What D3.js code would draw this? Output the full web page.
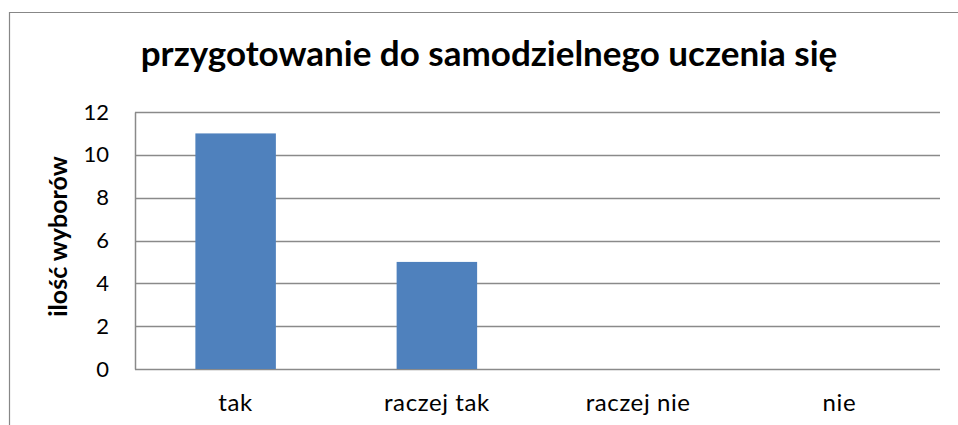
<!DOCTYPE html>
<html>
<head>
<meta charset="utf-8">
<script src="https://cdn.jsdelivr.net/npm/d3@7"></script>
<style>
  body { margin: 0; background: #fff; }
  svg { display: block; font-family: Lato, "Open Sans", sans-serif; }
</style>
</head>
<body>
<div id="chart"></div>
<script>
const categories = ['tak', 'raczej tak', 'raczej nie', 'nie'];
const values = [11, 5, 0, 0];
const yTicks = [0, 2, 4, 6, 8, 10, 12];
const title = 'przygotowanie do samodzielnego uczenia się';
const yTitle = 'ilość wyborów';

const width = 958, height = 425;
const margin = { top: 112, right: 18, bottom: 56, left: 135 };

const svg = d3.select('#chart')
  .append('svg')
  .attr('width', width)
  .attr('height', height);

// outer chart border (cut off at right and bottom)
svg.append('path')
  .attr('d', `M9.5,${height} V12.5 H${width}`)
  .attr('fill', 'none')
  .attr('stroke', '#878787')
  .attr('stroke-width', 1.2);

const x = d3.scaleBand()
  .domain(categories)
  .range([margin.left, width - margin.right])
  .paddingInner(0.6)
  .paddingOuter(0.3);

const y = d3.scaleLinear()
  .domain([0, 12])
  .range([height - margin.bottom, margin.top]);

// gridlines
svg.append('g')
  .selectAll('line')
  .data(yTicks)
  .join('line')
  .attr('x1', margin.left)
  .attr('x2', width - margin.right)
  .attr('y1', d => Math.round(y(d)) + 0.5)
  .attr('y2', d => Math.round(y(d)) + 0.5)
  .attr('stroke', '#8a8a8a')
  .attr('stroke-width', 1.5);

// bars
svg.append('g')
  .selectAll('rect')
  .data(values)
  .join('rect')
  .attr('x', (d, i) => x(categories[i]))
  .attr('width', x.bandwidth())
  .attr('y', d => y(d))
  .attr('height', d => y(0) - y(d))
  .attr('fill', '#4f81bd');

// y axis
const yAxis = svg.append('g')
  .attr('transform', `translate(${margin.left},0)`)
  .call(d3.axisLeft(y).tickValues(yTicks).tickSize(0).tickPadding(26));
yAxis.select('.domain').attr('stroke', '#8a8a8a').attr('stroke-width', 1.5);
yAxis.selectAll('text')
  .attr('font-size', 22)
  .attr('fill', '#000')
  .attr('font-family', 'Lato, "Open Sans", sans-serif');

// x axis labels
const xAxis = svg.append('g')
  .attr('transform', `translate(0,${y(0)})`)
  .call(d3.axisBottom(x).tickSize(0));
xAxis.select('.domain').remove();
xAxis.selectAll('text')
  .attr('y', 42)
  .attr('dy', null)
  .attr('font-size', 24)
  .attr('letter-spacing', 0.6)
  .attr('fill', '#000')
  .attr('font-family', 'Lato, "Open Sans", sans-serif');

// title
svg.append('text')
  .attr('x', 489)
  .attr('y', 66)
  .attr('text-anchor', 'middle')
  .attr('font-size', 35)
  .attr('font-weight', 'bold')
  .text(title);

// y axis title
svg.append('text')
  .attr('transform', `translate(67,${y(6) - 4}) rotate(-90)`)
  .attr('text-anchor', 'middle')
  .attr('font-size', 25)
  .attr('font-weight', 'bold')
  .text(yTitle);
</script>
</body>
</html>
